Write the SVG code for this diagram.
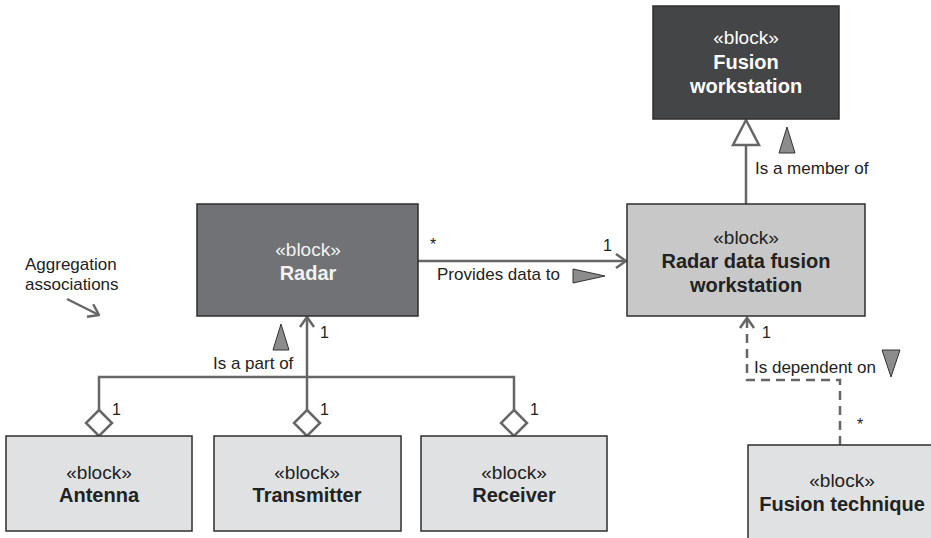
<svg xmlns="http://www.w3.org/2000/svg" width="931" height="538" viewBox="0 0 931 538">
<style>
.box{stroke:#2e2e2e;stroke-width:1.5}
.st{font-family:"Liberation Sans",Arial,sans-serif;font-size:19px;text-anchor:middle}
.nm{font-family:"Liberation Sans",Arial,sans-serif;font-size:20px;font-weight:bold;text-anchor:middle}
.lbl{font-family:"Liberation Sans",Arial,sans-serif;font-size:17px;fill:#222}
.mul{font-family:"Liberation Sans",Arial,sans-serif;font-size:16px;fill:#222}
.ln{stroke:#666;stroke-width:2.5;fill:none}
.dash{stroke:#666;stroke-width:2.5;fill:none;stroke-dasharray:9,6}
.dia{stroke:#666;stroke-width:2.5;fill:#fff}
.tri{fill:#8c8c8c;stroke:#333;stroke-width:1}
.light{fill:#e0e1e2}
.dk{fill:#fff}
.tx{fill:#222}
</style>
<defs>
<marker id="open" viewBox="0 0 12 16" refX="11" refY="8" markerWidth="12" markerHeight="16" markerUnits="userSpaceOnUse" orient="auto">
<path d="M1,1 L11,8 L1,15" fill="none" stroke="#666" stroke-width="2.5"/>
</marker>
</defs>
<rect width="931" height="538" fill="#fff"/>

<g id="connectors">
<line class="ln" x1="746" y1="145" x2="746" y2="204"/>
<polygon points="746,120 733,145 759,145" fill="#fff" stroke="#666" stroke-width="2.5"/>
<line class="ln" x1="418" y1="261" x2="626" y2="261" marker-end="url(#open)"/>
<polyline class="ln" points="99,410 99,377 514,377 514,410"/>
<line class="ln" x1="307" y1="410" x2="307" y2="317" marker-end="url(#open)"/>
<polygon class="dia" points="99,410 112,423 99,436 86,423"/>
<polygon class="dia" points="307,410 320,423 307,436 294,423"/>
<polygon class="dia" points="514,410 527,423 514,436 501,423"/>
<polyline class="dash" points="840,445 840,380 747,380 747,318"/>
<path d="M740,328 L747,318 L754,328" fill="none" stroke="#666" stroke-width="2.5"/>
<line class="ln" x1="67" y1="299" x2="99" y2="315" marker-end="url(#open)"/>
</g>

<g id="fusion-workstation">
<rect class="box" x="653" y="6" width="186" height="113" fill="#444547"/>
<text class="st dk" x="746" y="44">«block»</text>
<text class="nm dk" x="746" y="69">Fusion</text>
<text class="nm dk" x="746" y="93">workstation</text>
</g>

<g id="radar-data-fusion-workstation">
<rect class="box" x="627" y="204" width="238" height="112" fill="#c8c8c8"/>
<text class="st tx" x="746" y="244">«block»</text>
<text class="nm tx" x="746" y="268">Radar data fusion</text>
<text class="nm tx" x="746" y="292">workstation</text>
</g>

<g id="radar">
<rect class="box" x="197" y="204" width="221" height="112" fill="#717275"/>
<text class="st" fill="#f2f2f2" x="308" y="256">«block»</text>
<text class="nm" fill="#f2f2f2" x="308" y="280">Radar</text>
</g>

<g id="antenna">
<rect class="box light" x="6" y="436" width="186" height="95"/>
<text class="st tx" x="99" y="479">«block»</text>
<text class="nm tx" x="99" y="502">Antenna</text>
</g>

<g id="transmitter">
<rect class="box light" x="214" y="436" width="187" height="95"/>
<text class="st tx" x="307" y="479">«block»</text>
<text class="nm tx" x="307" y="502">Transmitter</text>
</g>

<g id="receiver">
<rect class="box light" x="421" y="436" width="186" height="95"/>
<text class="st tx" x="514" y="479">«block»</text>
<text class="nm tx" x="514" y="502">Receiver</text>
</g>

<g id="fusion-technique">
<rect class="box light" x="748" y="445" width="200" height="110"/>
<text class="st tx" x="842" y="487">«block»</text>
<text class="nm tx" x="842" y="511">Fusion technique</text>
</g>

<g id="labels">
<polygon class="tri" points="787,127 779,153 795,153"/>
<text class="lbl" x="755" y="174">Is a member of</text>
<text class="mul" x="430" y="250">*</text>
<text class="mul" x="603" y="251">1</text>
<text class="lbl" x="437" y="280">Provides data to</text>
<polygon class="tri" points="573,269 605,276 573,283"/>
<polygon class="tri" points="281,324 273,350 289,350"/>
<text class="lbl" x="213" y="369">Is a part of</text>
<text class="mul" x="320" y="338">1</text>
<text class="mul" x="112" y="415">1</text>
<text class="mul" x="320" y="415">1</text>
<text class="mul" x="530" y="415">1</text>
<text class="mul" x="762" y="338">1</text>
<text class="lbl" x="754" y="373">Is dependent on</text>
<polygon class="tri" points="882,350 900,350 891,377"/>
<text class="mul" x="857" y="430">*</text>
<text class="lbl" x="25" y="270">Aggregation</text>
<text class="lbl" x="25" y="290">associations</text>
</g>
</svg>
